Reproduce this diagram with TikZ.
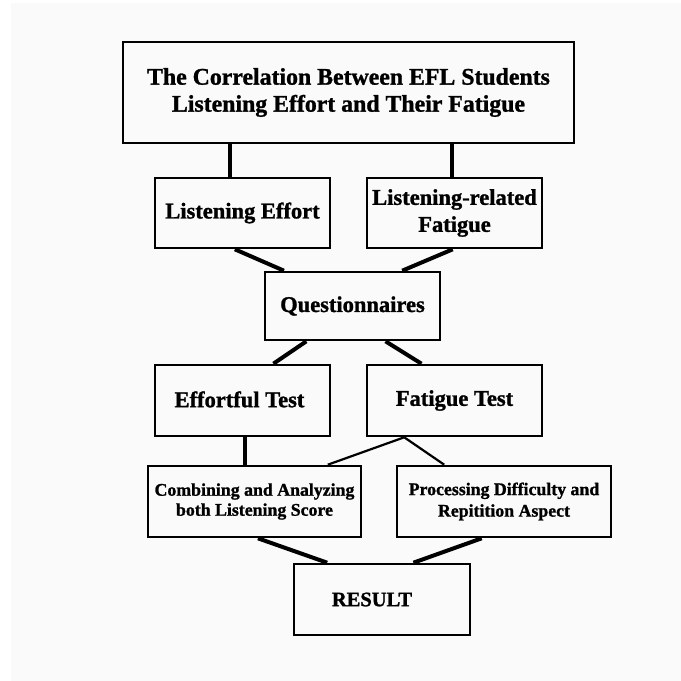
\documentclass[tikz,border=0pt]{standalone}
\usepackage{fontspec}
\setmainfont{Liberation Serif}[BoldFeatures={FakeBold=1.2}]
\usetikzlibrary{calc}
\definecolor{paper}{RGB}{250,250,250}
\begin{document}
\begin{tikzpicture}[x=1pt,y=-1pt,
  box/.style={draw=black, line width=2.6pt, align=center, inner sep=0pt,
    minimum width=175pt, minimum height=70pt,
    font=\bfseries\fontsize{22.5}{27}\selectfont},
  bigtext/.style={font=\bfseries\fontsize{23.8}{27}\selectfont},
  smalltext/.style={font=\bfseries\fontsize{17.8}{20}\selectfont},
  heavy link/.style={line width=4pt},
  light link/.style={line width=2.2pt}
]
% page and backdrop
\fill[white] (0,0) rectangle (681,681);
\fill[paper] (11,3) rectangle (681,681);
\useasboundingbox (0,0) rectangle (681,681);

% boxes
\node[box, bigtext, minimum width=451pt, minimum height=101pt] (title) at (348.5,92.5)
  {The Correlation Between EFL Students\\Listening Effort and Their Fatigue};
\node[box] (le)  at (242.5,213) {\raisebox{5pt}{Listening Effort}};
\node[box] (lrf) at (454.5,213) {Listening-related\\Fatigue};
\node[box, minimum height=68pt] (q) at (352.5,306) {\raisebox{-2pt}{Questionnaires}};
\node[box, minimum height=71pt] (et) at (242.5,400.5) {\raisebox{2.5pt}{Effortful Test}\hspace*{6pt}};
\node[box, minimum height=71pt] (ft) at (454.5,400.5) {\raisebox{3.5pt}{Fatigue Test}};
\node[box, smalltext, minimum width=213pt, minimum height=71pt] (cb) at (254.5,501.5)
  {Combining and Analyzing\\both Listening Score};
\node[box, smalltext, minimum width=214pt, minimum height=71pt] (pd) at (504,501.5)
  {\raisebox{1.5pt}{Processing Difficulty and}\\Repitition Aspect};
\node[box, font=\bfseries\fontsize{20.5}{24}\selectfont, minimum width=176pt, minimum height=71pt] (rs) at (382,599.5)
  {RESULT\hspace*{20pt}};

% title to first row
\draw[heavy link] ($(le.north west)!.43!(le.north east)$) coordinate (a1) -- (a1 |- title.south);
\draw[heavy link] ($(lrf.north west)!.486!(lrf.north east)$) coordinate (a2) -- (a2 |- title.south);

% first row to questionnaires
\draw[heavy link] ($(le.south west)!.457!(le.south east)$) -- ($(q.north west)!.114!(q.north east)$);
\draw[heavy link] ($(lrf.south west)!.49!(lrf.south east)$) -- ($(q.north west)!.78!(q.north east)$);

% questionnaires to tests
\draw[heavy link] ($(q.south west)!.24!(q.south east)$) -- ($(et.north west)!.674!(et.north east)$);
\draw[heavy link] ($(q.south west)!.686!(q.south east)$) -- ($(ft.north west)!.314!(ft.north east)$);

% tests to analysis
\draw[heavy link] ($(et.south west)!.514!(et.south east)$) coordinate (a3) -- (a3 |- cb.north);
\draw[light link] ($(ft.south west)!.217!(ft.south east)$) coordinate (a4) -- ($(cb.north west)!.84!(cb.north east)$);
\draw[light link] (a4) -- ($(pd.north west)!.224!(pd.north east)$);

% analysis to result
\draw[heavy link] ($(cb.south west)!.516!(cb.south east)$) -- ($(rs.north west)!.193!(rs.north east)$);
\draw[heavy link] ($(pd.south west)!.397!(pd.south east)$) -- ($(rs.north west)!.676!(rs.north east)$);
\end{tikzpicture}
\end{document}
